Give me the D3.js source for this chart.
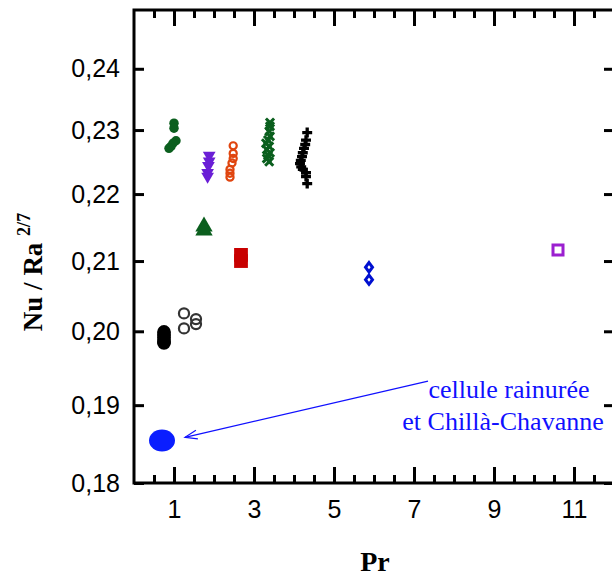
<!DOCTYPE html>
<html><head><meta charset="utf-8">
<script src="https://cdn.jsdelivr.net/npm/d3@7"></script>
<style>body{margin:0;background:#fff}</style>
</head><body>
<svg id="c" width="612" height="579"></svg>
<script>
// ---- data (Pr, Nu/Ra^2/7) ----
const blackFilledPr = [0.75, 0.75, 0.75, 0.75, 0.75];
const blackFilledNu = [0.1999, 0.1995, 0.1991, 0.1986, 0.1984];
const grayOpenPr = [1.25, 1.55, 1.55, 1.25];
const grayOpenNu = [0.2025, 0.2017, 0.2010, 0.2004];
const greenCirclePr = [1.0, 1.0, 1.05, 0.975, 0.925, 0.875];
const greenCircleNu = [0.2311, 0.2303, 0.2283, 0.2279, 0.2274, 0.2271];
const purpleTriPr = [1.88, 1.88, 1.86, 1.84, 1.84];
const purpleTriNu = [0.2260, 0.2251, 0.2244, 0.2233, 0.2227];
const greenTriPr = [1.75, 1.75];
const greenTriNu = [0.2151, 0.2145];
const orangeOpenPr = [2.48, 2.48, 2.48, 2.45, 2.4, 2.4, 2.4];
const orangeOpenNu = [0.2275, 0.2263, 0.2255, 0.2248, 0.2238, 0.2232, 0.2226];
const redSquarePr = [2.675, 2.675];
const redSquareNu = [0.2109, 0.2100];
const greenXPr = [3.4, 3.4, 3.38, 3.4, 3.35, 3.3, 3.38, 3.32, 3.4, 3.35, 3.32, 3.38];
const greenXNu = [0.2312, 0.2306, 0.2298, 0.2290, 0.2284, 0.2279, 0.2274, 0.2269, 0.2264, 0.2260, 0.2255, 0.2250];
const blackPlusPr = [4.33, 4.3, 4.28, 4.25, 4.22, 4.2, 4.17, 4.15, 4.18, 4.22, 4.3, 4.3, 4.33];
const blackPlusNu = [0.2296, 0.2284, 0.2277, 0.2271, 0.2264, 0.2258, 0.2252, 0.2247, 0.2242, 0.2238, 0.2233, 0.2227, 0.2216];
const blueDiamondPr = [5.875, 5.875];
const blueDiamondNu = [0.2091, 0.2073];
const purpleSquarePr = [10.6];
const purpleSquareNu = [0.2116];
const ellipsePr = [0.7];
const ellipseNu = [0.1854];

const xMajor = [1, 3, 5, 7, 9, 11];
const xMinor = d3.range(0.5, 12, 0.5).filter(v => v % 2 !== 1);
const yTicks = [0.18, 0.19, 0.20, 0.21, 0.22, 0.23, 0.24];
const annotLines = ["cellule rainurée", "et Chillà-Chavanne"];

// ---- scales ----
const L = 134, R = 614, T = 10, B = 483;
const x = d3.scaleLinear().domain([0, 12]).range([L, R]);
const y = d3.scaleLog().domain([0.18, 0.25]).range([B, T]);

const svg = d3.select("#c");
const sans = "'Liberation Sans', Arial, sans-serif";
const serif = "'Liberation Serif', 'Times New Roman', serif";
const fmt = d => d3.format(".2f")(d).replace(".", ",");

// ---- axes ----
function styleAxis(g) {
  g.select(".domain").remove();
  g.selectAll("line").attr("stroke", "#000").attr("stroke-width", 3);
  g.selectAll("text").attr("font-family", sans).attr("font-size", 25).attr("fill", "#000");
}
svg.append("g").attr("transform", `translate(0,${B})`)
  .call(d3.axisBottom(x).tickValues(xMajor).tickSize(-16).tickPadding(17).tickFormat(d3.format("d"))).call(styleAxis);
svg.append("g").attr("transform", `translate(0,${B})`)
  .call(d3.axisBottom(x).tickValues(xMinor).tickSize(-8).tickFormat("")).call(styleAxis);
svg.append("g").attr("transform", `translate(0,${T})`)
  .call(d3.axisTop(x).tickValues(xMajor).tickSize(-16).tickFormat("")).call(styleAxis);
svg.append("g").attr("transform", `translate(0,${T})`)
  .call(d3.axisTop(x).tickValues(xMinor).tickSize(-8).tickFormat("")).call(styleAxis);
svg.append("g").attr("transform", `translate(${L},0)`)
  .call(d3.axisLeft(y).tickValues(yTicks).tickSize(-10).tickPadding(14).tickFormat(fmt)).call(styleAxis);
svg.append("g").attr("transform", `translate(${R},0)`)
  .call(d3.axisRight(y).tickValues(yTicks).tickSize(-10).tickFormat("")).call(styleAxis);
svg.append("rect").attr("x", L).attr("y", T).attr("width", R - L).attr("height", B - T)
  .attr("fill", "none").attr("stroke", "#000").attr("stroke-width", 3);

// ---- axis titles ----
svg.append("text").attr("x", 375).attr("y", 571).attr("text-anchor", "middle")
  .attr("font-family", serif).attr("font-weight", "bold").attr("font-size", 28).text("Pr");
const yl = svg.append("text").attr("transform", "translate(42,272) rotate(-90)").attr("text-anchor", "middle")
  .attr("font-family", serif).attr("font-weight", "bold").attr("font-size", 27);
yl.append("tspan").text("Nu / Ra ");
yl.append("tspan").attr("font-size", 18).attr("dy", -12).text("2/7");

// ---- series ----
const zip = (a, b) => a.map((v, i) => [v, b[i]]);
function series(px, ny, type, size, fill, stroke, sw) {
  svg.append("g").selectAll("path").data(zip(px, ny)).join("path")
    .attr("transform", d => `translate(${x(d[0])},${y(d[1])})`)
    .attr("d", d3.symbol().type(type).size(size))
    .attr("fill", fill).attr("stroke", stroke).attr("stroke-width", sw);
}
const triDown = { draw(ctx, size) { const s = Math.sqrt(size * 4 / Math.sqrt(3)); const h = s * Math.sqrt(3) / 2;
  ctx.moveTo(-s / 2, -h / 3); ctx.lineTo(s / 2, -h / 3); ctx.lineTo(0, 2 * h / 3); ctx.closePath(); } };
const diamondW = { draw(ctx, size) { const r = Math.sqrt(size) / 2;
  ctx.moveTo(0, -r * 1.2); ctx.lineTo(r * 0.9, 0); ctx.lineTo(0, r * 1.2); ctx.lineTo(-r * 0.9, 0); ctx.closePath(); } };

series(blackFilledPr, blackFilledNu, d3.symbolCircle, 150, "#000", "none", 0);
series(grayOpenPr, grayOpenNu, d3.symbolCircle, 80, "none", "#333", 2.2);
series(greenCirclePr, greenCircleNu, d3.symbolCircle, 70, "#0b5f1e", "none", 0);
series(purpleTriPr, purpleTriNu, triDown, 70, "#6a1ed6", "none", 0);
series(greenTriPr, greenTriNu, d3.symbolTriangle, 130, "#0b5f1e", "none", 0);
series(orangeOpenPr, orangeOpenNu, d3.symbolCircle, 40, "none", "#e0450f", 2.2);
series(redSquarePr, redSquareNu, d3.symbolSquare, 190, "#c80000", "none", 0);
series(greenXPr, greenXNu, d3.symbolTimes, 45, "none", "#0b5f1e", 3);
series(blackPlusPr, blackPlusNu, d3.symbolCross, 55, "#000", "none", 0);
series(blueDiamondPr, blueDiamondNu, diamondW, 60, "none", "#0010d0", 3);
series(purpleSquarePr, purpleSquareNu, d3.symbolSquare, 100, "none", "#9b1fd0", 3);
svg.append("g").selectAll("ellipse").data(zip(ellipsePr, ellipseNu)).join("ellipse")
  .attr("cx", d => x(d[0])).attr("cy", d => y(d[1])).attr("rx", 13).attr("ry", 11).attr("fill", "#0a1eff");

// ---- annotation ----
const arrowFrom = [7.35, 0.1932], arrowTo = [1.275, 0.1858];
const ax1 = x(arrowFrom[0]), ay1 = y(arrowFrom[1]), ax2 = x(arrowTo[0]), ay2 = y(arrowTo[1]);
svg.append("line").attr("x1", ax1).attr("y1", ay1).attr("x2", ax2).attr("y2", ay2)
  .attr("stroke", "#1010ff").attr("stroke-width", 1.2);
const ang = Math.atan2(ay1 - ay2, ax1 - ax2);
const hl = 13, ha = 0.35;
svg.append("path").attr("d",
  `M${ax2 + hl * Math.cos(ang + ha)},${ay2 + hl * Math.sin(ang + ha)} L${ax2},${ay2} L${ax2 + hl * Math.cos(ang - ha)},${ay2 + hl * Math.sin(ang - ha)}`)
  .attr("fill", "none").attr("stroke", "#1010ff").attr("stroke-width", 1.2);
const annotPos = [[9.375, 0.1909], [9.225, 0.1867]];
annotLines.forEach((t, i) => {
  svg.append("text").attr("x", x(annotPos[i][0])).attr("y", y(annotPos[i][1])).attr("text-anchor", "middle")
    .attr("font-family", serif).attr("font-size", 26).attr("fill", "#1010ff").text(t);
});
</script>
</body></html>
